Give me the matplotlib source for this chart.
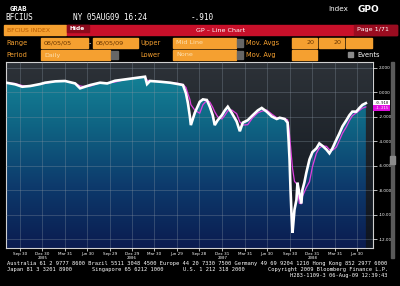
import numpy as np
import pandas as pd
import matplotlib.pyplot as plt
import matplotlib.dates as mdates
from matplotlib.colors import LinearSegmentedColormap
from matplotlib.patches import Rectangle

# BFCIUS index
dates = ['2005-08-05', '2005-09-10', '2005-10-09', '2005-11-10', '2005-12-21',
         '2006-01-10', '2006-02-20', '2006-04-01', '2006-05-12', '2006-06-01',
         '2006-06-13', '2006-07-12', '2006-08-21', '2006-09-19', '2006-10-21',
         '2006-12-01', '2007-01-10', '2007-02-20', '2007-02-28', '2007-03-12',
         '2007-04-22', '2007-06-02', '2007-07-04', '2007-07-24', '2007-08-05',
         '2007-08-13', '2007-08-21', '2007-08-25', '2007-09-10', '2007-09-30',
         '2007-10-13', '2007-10-29', '2007-11-10', '2007-11-22', '2007-11-30',
         '2007-12-12', '2007-12-29', '2008-01-10', '2008-01-22', '2008-02-07',
         '2008-02-27', '2008-03-11', '2008-03-23', '2008-04-12', '2008-05-02',
         '2008-05-23', '2008-06-08', '2008-06-28', '2008-07-19', '2008-08-08',
         '2008-08-20', '2008-09-09', '2008-09-21', '2008-09-25', '2008-09-29',
         '2008-10-03', '2008-10-07', '2008-10-11', '2008-10-19', '2008-10-27',
         '2008-10-31', '2008-11-08', '2008-11-16', '2008-11-20', '2008-11-28',
         '2008-12-06', '2008-12-19', '2008-12-31', '2009-01-16', '2009-01-28',
         '2009-02-10', '2009-02-26', '2009-03-10', '2009-03-22', '2009-04-07',
         '2009-04-19', '2009-05-02', '2009-05-18', '2009-05-30', '2009-06-11',
         '2009-06-27', '2009-07-10', '2009-07-22', '2009-08-05']
values = [0.76, 0.63, 0.43, 0.49, 0.65,
          0.76, 0.87, 0.90, 0.70, 0.30,
          0.38, 0.57, 0.76, 0.70, 0.92,
          1.03, 1.14, 1.25, 0.65, 0.90,
          0.84, 0.76, 0.65, 0.57, -0.10,
          -0.90, -2.00, -2.70, -1.70, -0.80,
          -0.60, -0.65, -1.20, -1.90, -2.70,
          -2.30, -1.90, -1.50, -1.20, -1.70,
          -2.40, -3.20, -2.50, -2.30, -1.90,
          -1.50, -1.30, -1.60, -2.00, -2.20,
          -2.10, -2.20, -2.50, -3.90, -5.50,
          -8.00, -10.00, -11.50, -9.60, -8.80,
          -7.40, -8.30, -9.10, -8.00, -7.40,
          -6.60, -5.50, -4.90, -4.60, -4.20,
          -4.40, -4.70, -5.00, -4.60, -3.90,
          -3.40, -2.80, -2.30, -1.90, -1.60,
          -1.60, -1.30, -1.05, -0.91]

ytick_vals = [2, 0, -2, -4, -6, -8, -10, -12]
xtick_dates = ['2005-09-30', '2005-12-30', '2006-03-31', '2006-06-30',
               '2006-09-29', '2006-12-29', '2007-03-30', '2007-06-29',
               '2007-09-28', '2007-12-31', '2008-03-31', '2008-06-30',
               '2008-09-30', '2008-12-31', '2009-03-31', '2009-06-30']
xtick_labels = ['Sep 30', 'Dec 30', 'Mar 31', 'Jun 30', 'Sep 29', 'Dec 29',
                'Mar 30', 'Jun 29', 'Sep 28', 'Dec 31', 'Mar 31', 'Jun 30',
                'Sep 30', 'Dec 31', 'Mar 31', 'Jun 30']
year_dates = ['2005-12-30', '2006-12-29', '2007-12-31', '2008-12-31']
year_labels = ['2005', '2006', '2007', '2008']

W, H = 400, 286
ORANGE = '#f5a030'
MONO = 'DejaVu Sans Mono'
SANS = 'DejaVu Sans'

fig = plt.figure(figsize=(W / 100, H / 100), dpi=100, facecolor='black')


def box(x0, y0, x1, y1, color, **kw):
    fig.patches.append(Rectangle((x0 / W, 1 - y1 / H), (x1 - x0) / W, (y1 - y0) / H,
                                 transform=fig.transFigure, color=color, **kw))


def txt(x, y, s, size, color, family=MONO, **kw):
    fig.text(x / W, 1 - y / H, s, fontsize=size, color=color, va='center',
             family=family, **kw)


# ---- header
txt(10, 9, 'GRAB', 5.2, 'white', weight='bold')
txt(5, 18, 'BFCIUS', 5.6, 'white')
txt(73, 18, 'NY 05AUG09 16:24', 5.6, 'white')
txt(191, 18, '-.910', 5.6, 'white')
txt(328, 9, 'Index', 5.2, 'white', family=SANS)
txt(357, 9, 'GPO', 6.5, 'white', family=SANS, weight='bold')

box(4, 25, 66, 35, ORANGE)
txt(7, 30, 'BFCIUS INDEX', 4.4, '#b85a00', family=SANS)
box(67, 25, 397, 35, '#c8102a')
box(67, 25, 89, 32, '#8c0a1c')
txt(70, 28.5, 'Hide', 4.2, 'white', family=SANS, weight='bold')
txt(221, 30, 'GP \u2013 Line Chart', 4.6, 'white', family=SANS, ha='center')
box(354, 25, 397, 35, '#9a0c20')
txt(357, 30, 'Page 1/71', 4.6, 'white', family=SANS)

# ---- option rows
txt(6, 43, 'Range', 4.8, ORANGE, family=SANS)
box(41, 38, 88, 48, ORANGE)
txt(44, 43, '08/05/05', 4.6, '#6a3600', family=SANS)
txt(89, 43, '-', 4.8, 'white', family=SANS)
box(93, 38, 138, 48, ORANGE)
txt(96, 43, '08/05/09', 4.6, '#6a3600', family=SANS)
txt(140, 43, 'Upper', 4.8, ORANGE, family=SANS)
box(173, 38, 236, 48, ORANGE)
txt(176, 43, 'Mid Line', 4.6, '#fde0b0', family=SANS)
box(237, 39, 243, 47, '#666666')
txt(246, 43, 'Mov. Avgs', 4.8, ORANGE, family=SANS)
box(292, 38, 317, 48, ORANGE)
txt(315, 43, '20', 4.6, '#6a3600', family=SANS, ha='right')
box(319, 38, 344, 48, ORANGE)
txt(342, 43, '20', 4.6, '#6a3600', family=SANS, ha='right')
box(346, 38, 372, 48, ORANGE)

txt(6, 55, 'Period', 4.8, ORANGE, family=SANS)
box(41, 50, 110, 60, ORANGE)
txt(44, 55, 'Daily', 4.6, '#fde0b0', family=SANS)
box(111, 51, 118, 59, '#666666')
txt(140, 55, 'Lower', 4.8, ORANGE, family=SANS)
box(173, 50, 236, 60, ORANGE)
txt(176, 55, 'None', 4.6, '#fde0b0', family=SANS)
box(237, 51, 243, 59, '#666666')
txt(246, 55, 'Mov. Avg', 4.8, ORANGE, family=SANS)
box(292, 50, 317, 60, ORANGE)
box(348, 52, 353, 57, '#8a8a8a')
txt(357, 55, 'Events', 4.8, 'white', family=SANS)

# ---- chart
s = pd.Series(values, index=pd.to_datetime(dates))
ma = s.rolling('40D').mean()

ax = fig.add_axes([6 / W, 1 - 248 / H, (373 - 6) / W, (248 - 62) / H])
ymin, ymax = -12.73, 2.45
x0 = mdates.date2num(pd.Timestamp('2005-08-04'))
x1 = mdates.date2num(pd.Timestamp('2009-09-03'))
ax.set_xlim(x0, x1)
ax.set_ylim(ymin, ymax)

grad = np.linspace(1, 0, 256).reshape(-1, 1)
dark = LinearSegmentedColormap.from_list('dark', ['#0f1520', '#1c2229', '#2d3238'])
ax.imshow(grad, cmap=dark, aspect='auto', extent=[x0, x1, ymin, ymax],
          origin='upper', vmin=0, vmax=1, zorder=0)
ax.fill_between([x1 - 6, x1], ymin, ymax, color='#121a22', zorder=0.5, lw=0)

teal = LinearSegmentedColormap.from_list('teal', ['#0b1c50', '#0d3a6c', '#0f6584', '#15899b'])
xs = mdates.date2num(s.index)
xs_fill = np.r_[xs, xs[-1]]
poly = ax.fill_between(xs, s.values, ymin, color='none', lw=0)
img = ax.imshow(grad, cmap=teal, aspect='auto', extent=[x0, x1, ymin, ymax],
                origin='upper', vmin=0, vmax=1, zorder=1)
img.set_clip_path(poly.get_paths()[0], transform=ax.transData)

ax.plot(xs, ma.values, color='#e040e0', lw=0.9, zorder=3)
ax.plot(xs, s.values, color='white', lw=1.9, zorder=4, solid_joinstyle='miter')

ax.set_yticks(ytick_vals)
ax.set_yticklabels([f'{v:.3f}' for v in ytick_vals])
ax.yaxis.tick_right()
ax.set_xticks(mdates.date2num(pd.to_datetime(xtick_dates)))
ax.set_xticklabels(xtick_labels)
ax.tick_params(axis='y', colors='white', labelsize=3, length=3, width=0.5, pad=1)
ax.tick_params(axis='x', colors='white', labelsize=3, length=2, width=0.5, pad=1)
ax.grid(True, color='#8a97a4', lw=0.5, alpha=0.45, zorder=2)
ax.set_axisbelow(False)
for sp in ax.spines.values():
    sp.set_color('#d0d0d0')
    sp.set_linewidth(0.8)

for d, lab in zip(year_dates, year_labels):
    ax.text(mdates.date2num(pd.Timestamp(d)), -0.055, lab, transform=ax.get_xaxis_transform(),
            fontsize=3, color='white', ha='center', va='center', family=MONO)

# last value boxes
ax.text(1.004, s.values[-1], f'{s.values[-1]:.3f}', transform=ax.get_yaxis_transform(),
        fontsize=2.8, color='black', va='center', ha='left', family=MONO, zorder=6,
        bbox=dict(boxstyle='square,pad=0.25', fc='white', ec='none'), clip_on=False)
ax.text(1.004, s.values[-1] - 0.42, f'{ma.values[-1]:.3f}', transform=ax.get_yaxis_transform(),
        fontsize=2.8, color='white', va='center', ha='left', family=MONO, zorder=6,
        bbox=dict(boxstyle='square,pad=0.25', fc='#e010e0', ec='none'), clip_on=False)

# scroll bar on the right
box(391, 62, 394, 258, '#5a5a5a')
box(390, 156, 395, 164, '#8a8a8a')

# ---- footer
txt(7, 264, 'Australia 61 2 9777 8600 Brazil 5511 3048 4500 Europe 44 20 7330 7500 '
    'Germany 49 69 9204 1210 Hong Kong 852 2977 6000', 3.9, 'white')
txt(7, 269.5, 'Japan 81 3 3201 8900', 3.9, 'white')
txt(92, 269.5, 'Singapore 65 6212 1000', 3.9, 'white')
txt(183, 269.5, 'U.S. 1 212 318 2000', 3.9, 'white')
txt(388, 269.5, 'Copyright 2009 Bloomberg Finance L.P.', 3.9, 'white', ha='right')
txt(388, 275.5, 'H283-1109-3 06-Aug-09 12:39:43', 3.9, 'white', ha='right')

fig.savefig('out.png', dpi=100, facecolor='black')
